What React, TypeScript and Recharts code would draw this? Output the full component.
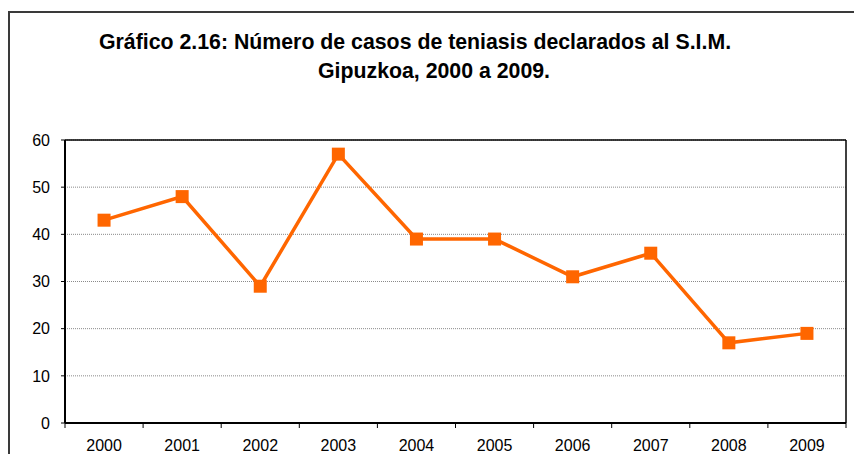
import React from "react";
import { LineChart, Line, XAxis, YAxis, CartesianGrid, ReferenceLine } from "recharts";

// Casos de teniasis declarados al S.I.M., Gipuzkoa
const years = ["2000", "2001", "2002", "2003", "2004", "2005", "2006", "2007", "2008", "2009"];
const cases = [43, 48, 29, 57, 39, 39, 31, 36, 17, 19];
const yTicks = [0, 10, 20, 30, 40, 50, 60];

const W = 854;
const H = 454;
const M = { top: 140, right: 8, bottom: 0, left: 25 };
const Y_AXIS_W = 40;
const X_AXIS_H = 31;
const FONT = '"Liberation Sans", Arial, sans-serif';
const ORANGE = "#FF6600";

// each year sits in the middle of its slot, axis ticks mark the slot edges
const data = years.map((year, i) => ({ x: i + 0.5, year, value: cases[i] }));
const edgeTicks = years.map((_, i) => i).concat(years.length);
const halfSlot = (W - M.left - Y_AXIS_W - M.right) / years.length / 2;

const YearTick = (props: any) => {
  const { x, y, payload } = props;
  const label = years[payload.value];
  if (!label) return null;
  return (
    <text x={x + halfSlot} y={y} dy="0.71em" textAnchor="middle" fill="#000" fontSize={16} fontFamily={FONT}>
      {label}
    </text>
  );
};

const SquareDot = (props: any) => {
  const { cx, cy, index } = props;
  if (cx == null || cy == null) return null;
  return <rect key={`dot-${index}`} x={cx - 6.5} y={cy - 6.5} width={13} height={13} fill={ORANGE} />;
};

const titleStyle: React.CSSProperties = {
  position: "absolute",
  fontFamily: FONT,
  fontWeight: "bold",
  fontSize: 21.3,
  lineHeight: "21px",
  whiteSpace: "nowrap",
};

export default function App() {
  return (
    <div style={{ position: "absolute", left: 0, top: 0, width: W, height: H, overflow: "hidden", background: "#fff" }}>
      <div
        style={{
          position: "absolute",
          left: 8,
          top: 11,
          width: 900,
          height: 500,
          border: "2px solid #3a3a3a",
        }}
      />
      <div style={{ ...titleStyle, left: 99, top: 32 }}>
        Gráfico 2.16: Número de casos de teniasis declarados al S.I.M.
      </div>
      <div style={{ ...titleStyle, left: 318, top: 61 }}>
        Gipuzkoa, 2000 a 2009.
      </div>
      <div style={{ position: "absolute", left: 0, top: 0 }}>
        <LineChart width={W} height={H} data={data} margin={M}>
          <CartesianGrid vertical={false} stroke="#8a8a8a" strokeDasharray="1 1" />
          <XAxis
            dataKey="x"
            type="number"
            domain={[0, years.length]}
            ticks={edgeTicks}
            interval={0}
            height={X_AXIS_H}
            tickSize={5}
            tickMargin={12}
            axisLine={{ stroke: "#000", strokeWidth: 2 }}
            tickLine={{ stroke: "#000" }}
            tick={<YearTick />}
          />
          <YAxis
            domain={[0, 60]}
            ticks={yTicks}
            interval={0}
            width={Y_AXIS_W}
            tickSize={4}
            tickMargin={11}
            axisLine={{ stroke: "#000", strokeWidth: 2 }}
            tickLine={{ stroke: "#000" }}
            tick={{ fill: "#000", fontSize: 16, fontFamily: FONT }}
          />
          <ReferenceLine y={60} stroke="#000" strokeWidth={1.5} />
          <ReferenceLine x={years.length} stroke="#000" strokeWidth={1.5} />
          <Line
            dataKey="value"
            stroke={ORANGE}
            strokeWidth={3.5}
            dot={SquareDot}
            activeDot={false}
            isAnimationActive={false}
          />
        </LineChart>
      </div>
    </div>
  );
}
